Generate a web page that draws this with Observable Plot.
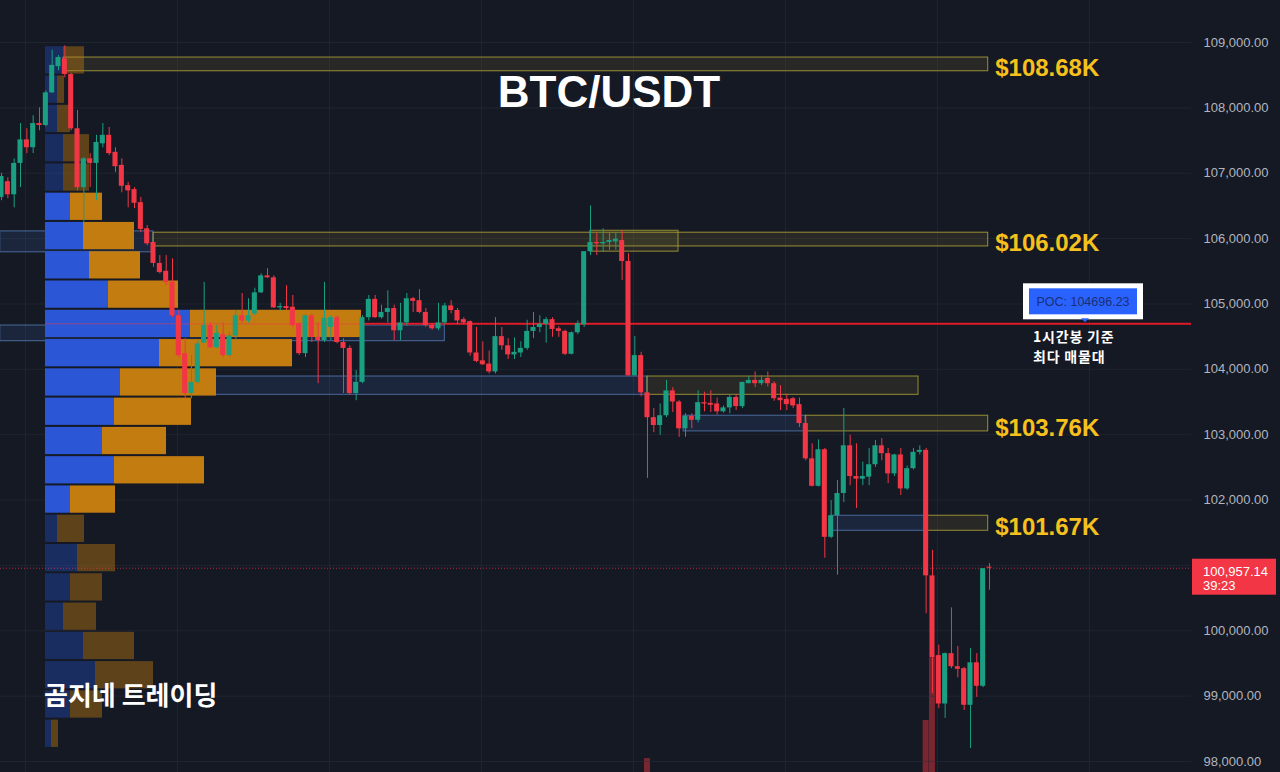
<!DOCTYPE html>
<html><head><meta charset="utf-8">
<script src="https://cdn.jsdelivr.net/npm/d3@7"></script>
<script src="https://cdn.jsdelivr.net/npm/@observablehq/plot@0.6"></script>
<style>
html,body{margin:0;padding:0;background:#151924;}
#wrap{position:relative;width:1280px;height:772px;overflow:hidden;background:#151924;}
#wrap svg{position:absolute;left:0;top:0;}
</style></head><body><div id="wrap"></div>
<script>
// ---- Candles (1h BTC/USDT) ----
const opens = [106630,106870,106670,107150,107510,107390,107760,107730,108230,108630,108750,108510,107680,106780,107220,107150,107450,107580,107320,107120,106810,106750,106550,106150,105940,105620,105500,105330,104820,104240,103630,103800,104400,104670,104330,104530,104210,104510,104820,104740,104850,105170,105430,105400,104940,104960,104950,104700,104240,104820,104490,104440,104640,104790,104410,104320,103630,103800,104790,105070,104790,104870,104930,104590,104710,105080,105050,104870,104670,104620,104710,104970,104900,104760,104730,104250,104130,104080,103960,104500,104360,104220,104250,104320,104580,104640,104690,104760,104620,104580,104230,104560,104680,105800,105940,105920,105940,105950,105970,105650,103900,104210,103640,103260,103140,103290,103670,103500,103090,103280,103220,103490,103480,103470,103350,103410,103570,103430,103780,103830,103780,103860,103780,103560,103540,103550,103460,103170,102630,102210,102770,101430,101760,102100,102830,102360,102320,102350,102540,102830,102710,102400,102690,102170,102480,102730,102760,100840,99620,98880,99650,99450,99420,98860,99510,99150,100970];
const highs = [107000,106930,107220,107760,107680,107880,108000,108260,108880,108800,108950,108530,107960,107240,107300,107580,107760,107700,107390,107220,106860,106780,106630,106200,106080,105740,105740,105690,104900,104470,104210,104440,105330,104710,104670,104710,104560,104900,105160,105080,105240,105460,105540,105430,105010,105280,105130,104710,104850,104850,104710,105330,104820,104820,104470,104360,103980,104820,105130,105130,104980,105200,104980,105010,105160,105100,105220,104930,104700,105010,105010,105050,104930,104790,104740,104640,104420,104280,104790,104640,104470,104480,104420,104750,104870,104820,104790,104790,104650,104600,104570,104740,105800,106500,106080,106150,106080,106090,106120,105770,104500,104260,103670,103400,103470,103830,103720,103520,103320,103320,103670,103650,103670,103560,103440,103610,103610,103800,103890,103960,103900,103960,103810,103750,103620,103570,103560,103270,102860,102920,102790,101990,102300,103400,102990,102860,102580,102790,102910,102940,102790,102700,102790,102520,102790,102830,102790,101230,99780,99660,100350,99760,99440,99730,99650,100950,101030];
const lows = [106580,106610,106470,106780,107300,107300,107650,107710,108220,108570,108460,107650,106730,106250,106780,106580,107390,107270,107010,106700,106470,106460,106090,105890,105560,105460,105280,104790,104180,103550,103550,103780,104400,104320,104320,104180,104180,104440,104710,104710,104820,105160,105390,104930,104890,104900,104640,104210,104180,104410,103780,104410,104440,104390,103630,103600,103520,103780,104740,104780,104770,104710,104440,104440,104660,104870,104850,104640,104600,104590,104680,104850,104680,104680,104200,104100,104060,103930,103930,104290,104150,104150,104180,104290,104470,104560,104400,104490,104490,104210,104220,104530,104640,105740,105740,105790,105820,105820,105360,103900,103900,103580,102330,103030,102990,103260,103340,102960,102960,103090,103180,103350,103340,103300,103330,103320,103370,103400,103780,103720,103750,103730,103510,103370,103370,103400,103110,102600,102200,102200,101110,101410,100850,101960,102220,101870,102220,102220,102500,102600,102250,102360,102070,102150,102460,102690,100260,99040,98810,98660,99420,99280,98780,98200,98980,99130,100620];
const closes = [106950,106670,107150,107510,107390,107760,107730,108230,108650,108770,108510,107680,106780,107220,107150,107470,107580,107300,107100,106800,106730,106540,106140,105920,105620,105480,105330,104820,104210,103630,103800,104390,104670,104330,104550,104210,104510,104820,104740,104820,105170,105430,105400,104940,104960,104930,104670,104240,104820,104490,104440,104780,104790,104410,104320,103630,103800,104790,105070,104790,104870,104930,104590,104710,105080,105040,104870,104670,104620,104710,104970,104900,104740,104710,104250,104120,104070,103960,104500,104360,104220,104260,104320,104580,104640,104690,104760,104610,104580,104230,104560,104700,105800,105940,105920,105940,105970,105990,105650,103900,104210,103640,103260,103140,103290,103670,103500,103090,103280,103220,103490,103470,103450,103350,103410,103570,103430,103800,103830,103780,103830,103780,103550,103520,103460,103440,103170,102630,102210,102770,101430,101760,102100,102830,102360,102320,102360,102540,102830,102710,102400,102690,102170,102480,102730,102760,100840,99590,98880,99650,99450,99410,98860,99510,99150,100950,100957.14];

// visible volume bars (bottom pane, only tallest ones reach into view)
const volIdx = [102, 146, 147];
const volVals = [520, 1950, 4300];

// ---- Volume profile (24 rows, top -> bottom) ----
const vpBuy  = [18,12,12,18,18,25,38,44,63,145,114,75,69,57,69,25,12,32,25,18,38,50,25,6];
const vpSell = [21,7,13,26,26,32,51,51,70,171,133,96,77,64,90,45,27,38,32,33,51,58,32,7];
const valueAreaRows = [5, 15];
const pocPrice = 104696.23;

// ---- Zones ----
const zoneStart = [9.8, 24, 93, 102, 127, 146, -0.2, -0.2, 29, 107.7, 131];
const zoneEnd   = [155.8, 155.8, 106.9, 144.8, 155.8, 155.8, 24, 70, 102, 127, 146];
const zoneHi    = [108770, 106090, 106120, 103890, 103290, 101760, 106110, 104670, 103890, 103290, 101760];
const zoneLo    = [108560, 105880, 105800, 103610, 103050, 101530, 105790, 104430, 103610, 103050, 101530];
const zoneKind  = ["y","y","y","y","y","y","b","b","b","b","b"];
const zoneLabel = ["$108.68K","$106.02K","","","$103.76K","$101.67K","","","","",""];

// ---- Axis ticks / grid ----
const yTicks = d3.range(98000, 109001, 1000);
const dayLines = [3.8, 27.8, 51.8, 75.8, 99.8, 123.8, 147.8, 171.8];
const xDomain = [-0.16, 187.9];
const yDomain = [98000, 109000];

const GREEN = "#1a9f82", RED = "#f23645", GOLD = "#f6c11c";
const FONT = "Liberation Sans, Arial, sans-serif";
const KFONT = "Noto Sans CJK KR, sans-serif";

const candles = opens.map((o, i) => {
  const c = closes[i];
  const bBot = Math.min(o, c);
  const bTop = Math.max(Math.max(o, c), bBot + 16);
  return {i, open: o, high: highs[i], low: lows[i], close: c, bBot, bTop};
});
const up = candles.filter(d => d.close >= d.open);
const down = candles.filter(d => d.close < d.open);
const zones = zoneStart.map((s, k) => ({start: s, end: zoneEnd[k], hi: zoneHi[k], lo: zoneLo[k], kind: zoneKind[k], label: zoneLabel[k]}));
const lastPrice = closes[closes.length - 1];
// the last-price badge hides the axis label it sits on
const axisTicks = yTicks.filter(t => Math.abs(t - lastPrice) > 300);

const pHigh = d3.max(highs), pLow = d3.min(lows);
const rowH = (pHigh - pLow) / vpBuy.length;
const rows = vpBuy.map((b, r) => ({r, buy: b, total: b + vpSell[r], top: pHigh - r * rowH, bot: pHigh - (r + 1) * rowH,
  va: r >= valueAreaRows[0] && r <= valueAreaRows[1]}));

const common = {
  width: 1280, height: 772,
  marginLeft: 0, marginRight: 89, marginTop: 0, marginBottom: 0,
  x: {type: "linear", domain: xDomain, axis: null},
  y: {domain: yDomain, range: [761, 42], axis: null},
  style: {background: "transparent", fontFamily: FONT, color: "#b2b5be"}
};

// volume layer
const volLayer = Plot.plot({
  ...common,
  y: {domain: [0, 6000], range: [772, 612], axis: null},
  marks: [
    Plot.rect(volIdx.map((i, k) => ({i, v: volVals[k]})), {x1: d => d.i - 0.47, x2: d => d.i + 0.47, y1: 0, y2: "v", fill: "#7a2630"})
  ]
});

// lower main layer
const lower = Plot.plot({
  ...common,
  marks: [
    Plot.gridY(yTicks, {stroke: "#2a2e39", strokeOpacity: 0.55}),
    Plot.ruleX(dayLines, {stroke: "#2a2e39", strokeOpacity: 0.55}),
    Plot.rect(zones.filter(d => d.kind === "b"), {x1: "start", x2: "end", y1: "lo", y2: "hi", fill: "#3d6ab8", fillOpacity: 0.16, stroke: "#5b83c0", strokeOpacity: 0.75}),
    Plot.rect(zones.filter(d => d.kind === "y"), {x1: "start", x2: "end", y1: "lo", y2: "hi", fill: "#a89a35", fillOpacity: 0.13, stroke: "#b5a93a", strokeOpacity: 0.8}),
    Plot.axisY(axisTicks, {anchor: "right", tickSize: 0, tickPadding: 12, tickFormat: d3.format(",.2f"), fontSize: 13, label: null})
  ]
});

// volume profile layer
const profile = Plot.plot({
  width: 1280, height: 772,
  marginLeft: 45, marginRight: 89, marginTop: 0, marginBottom: 0,
  x: {domain: [0, 1146], axis: null},
  y: {domain: yDomain, range: [761, 42], axis: null},
  style: {background: "transparent"},
  marks: [
    Plot.ruleY([pocPrice], {stroke: "#d3121d", strokeWidth: 2}),
    Plot.rect(rows.filter(d => !d.va), {x1: 0, x2: "buy", y1: "bot", y2: "top", fill: "#2962ff", fillOpacity: 0.28, insetTop: 1, insetBottom: 1}),
    Plot.rect(rows.filter(d => !d.va), {x1: "buy", x2: "total", y1: "bot", y2: "top", fill: "#c27c0e", fillOpacity: 0.42, insetTop: 1, insetBottom: 1}),
    Plot.rect(rows.filter(d => d.va), {x1: 0, x2: "buy", y1: "bot", y2: "top", fill: "#2b57d6", insetTop: 1, insetBottom: 1}),
    Plot.rect(rows.filter(d => d.va), {x1: "buy", x2: "total", y1: "bot", y2: "top", fill: "#c27c10", insetTop: 1, insetBottom: 1}),
    Plot.ruleY([pocPrice], {stroke: "#f23645", strokeWidth: 1.5, strokeOpacity: 0.35})
  ]
});

// upper main layer
const upper = Plot.plot({
  ...common,
  marks: [
    Plot.ruleY([lastPrice], {stroke: RED, strokeDasharray: "1,2", strokeOpacity: 0.75}),
    Plot.ruleX(up, {x: "i", y1: "low", y2: "high", stroke: GREEN}),
    Plot.ruleX(down, {x: "i", y1: "low", y2: "high", stroke: RED}),
    Plot.rect(up, {x1: d => d.i - 0.4, x2: d => d.i + 0.4, y1: "bBot", y2: "bTop", fill: GREEN}),
    Plot.rect(down, {x1: d => d.i - 0.4, x2: d => d.i + 0.4, y1: "bBot", y2: "bTop", fill: RED}),
    Plot.text(zones.filter(d => d.label), {x: "end", y: "lo", text: "label", dx: 7, dy: -3, textAnchor: "start", lineAnchor: "middle",
      fill: GOLD, fontSize: 24, fontWeight: "bold", fontFamily: FONT})
  ]
});

const wrap = document.getElementById("wrap");
[volLayer, lower, profile, upper].forEach(s => wrap.appendChild(s));

// overlay annotations
const ys = lower.scale("y");
const py = ys.apply(pocPrice);
const pp = ys.apply(lastPrice);
const ov = d3.select(wrap).append("svg").attr("width", 1280).attr("height", 772);

ov.append("text").attr("x", 609).attr("y", 107).attr("text-anchor", "middle")
  .attr("font-family", FONT).attr("font-weight", "bold").attr("font-size", 44).attr("fill", "#ffffff").text("BTC/USDT");

ov.append("text").attr("x", 44).attr("y", 705)
  .attr("font-family", KFONT).attr("font-weight", "bold").attr("font-size", 26).attr("fill", "#ffffff").text("곰지네 트레이딩");

// POC callout
ov.append("rect").attr("x", 1023).attr("y", py - 40).attr("width", 120).attr("height", 36).attr("fill", "#ffffff");
ov.append("rect").attr("x", 1029).attr("y", py - 35).attr("width", 108).attr("height", 26).attr("fill", "#2962ff");
ov.append("text").attr("x", 1083).attr("y", py - 17.5).attr("text-anchor", "middle")
  .attr("font-family", FONT).attr("font-size", 12.5).attr("fill", "#1b2f72").text("POC: " + pocPrice.toFixed(2));
ov.append("path").attr("d", `M1081,${py - 5}L1089,${py - 5}L1085,${py - 1}Z`).attr("fill", "#2962ff");
ov.append("text").attr("x", 1033).attr("y", py + 18.5).attr("letter-spacing", 0.8)
  .attr("font-family", KFONT).attr("font-weight", "bold").attr("font-size", 14).attr("fill", "#ffffff").text("1시간봉 기준");
ov.append("text").attr("x", 1033).attr("y", py + 38.5).attr("letter-spacing", 0.8)
  .attr("font-family", KFONT).attr("font-weight", "bold").attr("font-size", 14).attr("fill", "#ffffff").text("최다 매물대");

// last price label
ov.append("rect").attr("x", 1192).attr("y", pp - 9).attr("width", 84).attr("height", 36).attr("fill", RED);
ov.append("text").attr("x", 1203).attr("y", pp + 8).attr("font-family", FONT).attr("font-size", 13).attr("fill", "#ffffff")
  .text(d3.format(",.2f")(lastPrice));
ov.append("text").attr("x", 1203).attr("y", pp + 22.5).attr("font-family", FONT).attr("font-size", 13).attr("fill", "#ffffff").text("39:23");
</script>
</body></html>
